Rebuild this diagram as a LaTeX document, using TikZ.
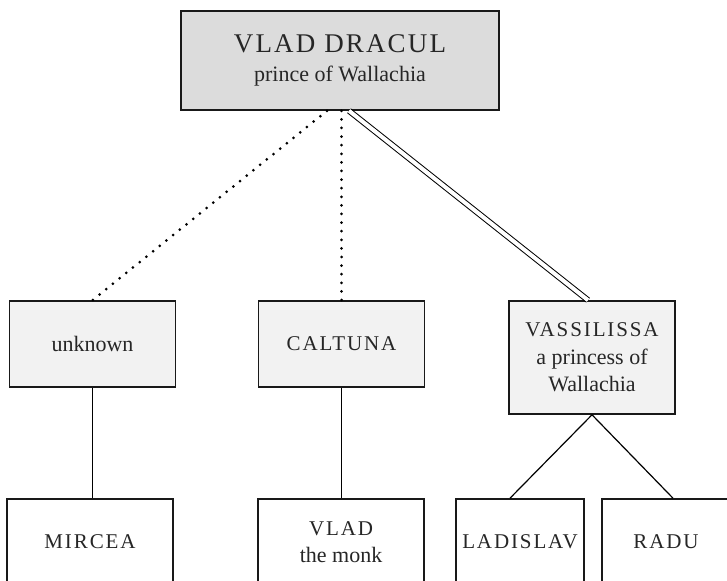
\documentclass[tikz,border=0pt]{standalone}
\usepackage{fontspec}
\setmainfont{Liberation Serif}

\definecolor{headgray}{RGB}{220,220,220}
\definecolor{wifegray}{RGB}{242,242,242}
\newcommand{\famname}[1]{{\addfontfeatures{LetterSpace=9}\fontsize{10.5}{13.5}\selectfont #1}}

\tikzset{
  person/.style={draw=black!90,line width=0.8pt,align=center,inner sep=0pt,
    minimum width=83pt,minimum height=43pt,text=black!85,
    font=\fontsize{11}{13.75}\selectfont},
  wife/.style={person,fill=wifegray},
  son/.style={person,fill=white},
  affair/.style={line width=1.5pt,line cap=round,dash pattern=on 0pt off 4.3pt},
  wedlock/.style={double,double distance=2pt,line width=0.5pt},
  descent/.style={line width=0.6pt}
}

\begin{document}
\begin{tikzpicture}[x=0.5pt,y=-0.5pt]

  \clip (0,0) rectangle (727,581);

  %% the prince
  \node[person,fill=headgray,minimum width=159pt,minimum height=49.5pt] (dracul)
    at (340,60.5)
    {{\fontsize{13.5}{15}\selectfont\addfontfeatures{LetterSpace=8}VLAD DRACUL}\\[1pt]
     prince of Wallachia};

  %% the mothers
  \node[wife] (unknown) at (92.5,344) {unknown};
  \node[wife] (caltuna) at (341.5,344) {\famname{CALTUNA}};
  \node[wife,minimum height=56.5pt] (vass) at (592,357.5)
    {\famname{VASSILISSA}\\a princess of\\Wallachia};

  %% the sons
  \node[son] (mircea) at (90,542) {\famname{MIRCEA}};
  \node[son] (vlad) at (341,542) {\famname{VLAD}\\the monk};
  \node[son,minimum width=64pt] (ladislav) at (520,542) {\famname{LADISLAV}};
  \node[son,minimum width=64pt] (radu) at (666,542) {\famname{RADU}};

  \draw[affair] ([xshift=-6.5pt]dracul.south) -- (unknown.north);
  \draw[affair] (caltuna.north |- dracul.south) -- (caltuna.north);
  \draw[wedlock] ([xshift=4.5pt]dracul.south) -- ([xshift=-2pt]vass.north);

  \draw[descent] (unknown.south) -- (unknown.south |- mircea.north);
  \draw[descent] (caltuna.south) -- (caltuna.south |- vlad.north);
  \draw[descent] (vass.south) -- ([xshift=-5pt]ladislav.north);
  \draw[descent] (vass.south) -- ([xshift=3.5pt]radu.north);

\end{tikzpicture}
\end{document}
